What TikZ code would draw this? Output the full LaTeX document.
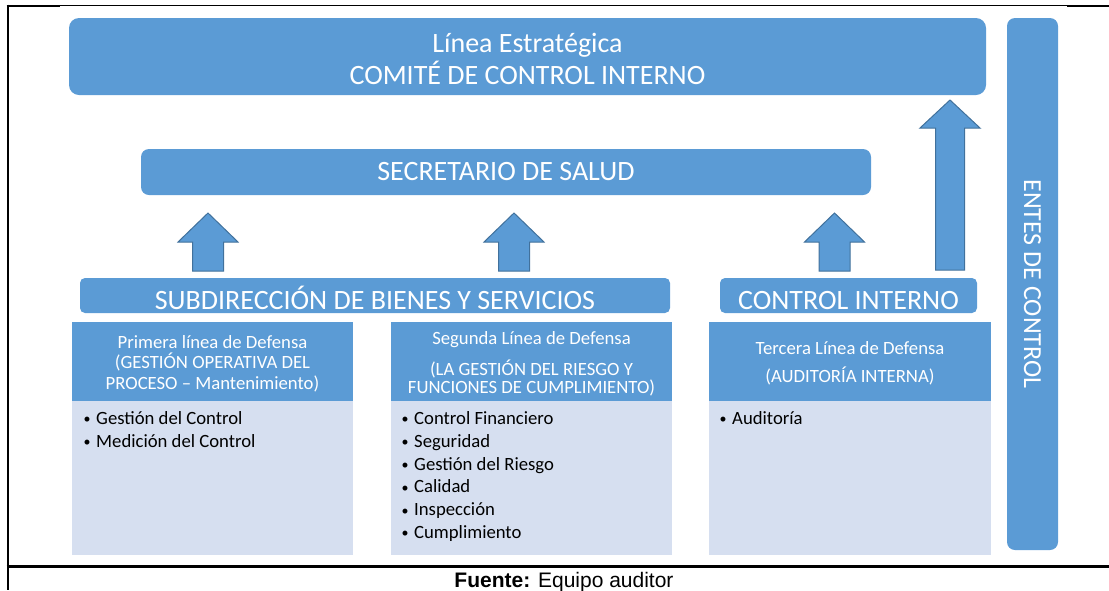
\documentclass[tikz,border=0pt]{standalone}
\usepackage{fontspec}
\setmainfont{Carlito}
\newfontfamily\capfont{Liberation Sans}
\definecolor{mainblue}{HTML}{5B9BD5}
\definecolor{lightblue}{HTML}{D6DFF0}
\definecolor{arrowline}{HTML}{41719C}
\tikzset{
  bluebox/.style={fill=mainblue, draw=none, text=white, inner sep=0pt, align=center},
  bodybox/.style={fill=lightblue, draw=none, inner sep=0pt},
  labeltext/.style={text=white, inner sep=0pt, align=center},
  bigtext/.style={font=\fontsize{28}{34}\selectfont},
  hdrtext/.style={font=\fontsize{18.7}{20.3}\selectfont},
  itemtext/.style={font=\fontsize{18.7}{22.8}\selectfont, anchor=base west, inner sep=0pt, text=black},
  blockarrow/.style={fill=mainblue, draw=arrowline, line width=1pt, line join=miter},
  frameline/.style={draw=black}
}
\newcommand{\bul}{\llap{\raisebox{0.6pt}{\fontsize{14}{14}\selectfont •}\hspace{5.5pt}}}
\begin{document}
\begin{tikzpicture}[x=1pt,y=-1pt]
\useasboundingbox (0,0) rectangle (1109,590);
% frame lines
\draw[frameline, line width=2pt] (6.5,5.5) -- (60,5.5);
\draw[frameline, line width=1.2pt] (60,5.5) -- (1067,5.5);
\draw[frameline, line width=2pt] (1067,6) -- (1109,6);
\draw[frameline, line width=2pt] (7.5,4.5) -- (7.5,590);
\draw[frameline, line width=2.5pt] (6.5,566.5) -- (1109,566.5);

% top boxes
\node[bluebox, rounded corners=10pt, minimum width=917pt, minimum height=77pt] (top) at (527.5,56.5) {};
\node[labeltext, font=\fontsize{28}{32}\selectfont, yshift=-2pt] (topt) at (top) {Línea Estratégica\\COMITÉ DE CONTROL INTERNO};
\node[bluebox, font=\fontsize{26}{30}\selectfont, rounded corners=8pt, rotate=-90, minimum width=532pt, minimum height=51pt] (entes) at (1032.5,284) {ENTES DE CONTROL};
\node[bluebox, bigtext, rounded corners=8pt, minimum width=730pt, minimum height=46pt] (sec) at (506,172) {SECRETARIO DE SALUD};
\node[bluebox, bigtext, text height=28pt, text depth=0pt, rounded corners=5pt, minimum width=590pt, minimum height=35pt] (sub) at (375,295.5) {SUBDIRECCIÓN DE BIENES Y SERVICIOS};
\node[bluebox, bigtext, text height=28pt, text depth=0pt, rounded corners=5pt, minimum width=257pt, minimum height=35pt] (ci) at (848.5,295.5) {CONTROL INTERNO};

% block arrows
\foreach \cx/\tip/\sh/\bot/\hh/\sw in {208/213/242/271/30/15.5, 514/213/242/271/30/15.5, 834.5/213/242/271/30/15.5, 950/100/128/270/30/14.5}{
  \draw[blockarrow] (\cx-\sw,\bot) -- (\cx-\sw,\sh) -- (\cx-\hh,\sh) -- (\cx,\tip) -- (\cx+\hh,\sh) -- (\cx+\sw,\sh) -- (\cx+\sw,\bot) -- cycle;
}

% lower boxes: headers
\node[bluebox, minimum width=281pt, minimum height=79pt] (h1) at (212.5,361.5) {};
\node[bluebox, minimum width=281pt, minimum height=79pt] (h2) at (531.5,361.5) {};
\node[bluebox, minimum width=282pt, minimum height=79pt] (h3) at (850,361.5) {};
\node[labeltext, hdrtext, yshift=-2pt] (h1t) at (h1) {Primera línea de Defensa\\(GESTIÓN OPERATIVA DEL\\PROCESO – Mantenimiento)};
\node[labeltext, font=\fontsize{18.7}{18.5}\selectfont, yshift=-2.5pt] (h2t) at (h2) {Segunda Línea de Defensa\\[10.5pt](LA GESTIÓN DEL RIESGO Y\\FUNCIONES DE CUMPLIMIENTO)};
\node[labeltext, font=\fontsize{18.7}{19.5}\selectfont, yshift=-2pt] (h3t) at (h3) {Tercera Línea de Defensa\\[8.5pt](AUDITORÍA INTERNA)};
% bodies
\node[bodybox, minimum width=281pt, minimum height=154pt, anchor=north] (b1) at (h1.south) {};
\node[bodybox, minimum width=281pt, minimum height=154pt, anchor=north] (b2) at (h2.south) {};
\node[bodybox, minimum width=282pt, minimum height=154pt, anchor=north] (b3) at (h3.south) {};

% items
\foreach \t [count=\i from 0] in {Gestión del Control, Medición del Control}{
  \node[itemtext] (b1i\i) at (96,424.5+22.8*\i) {\bul\t};
}
\foreach \t [count=\i from 0] in {Control Financiero, Seguridad, Gestión del Riesgo, Calidad, Inspección, Cumplimiento}{
  \node[itemtext] (b2i\i) at (414,424.5+22.8*\i) {\bul\t};
}
\node[itemtext] (b3i0) at (732,424.5) {\bul Auditoría};

% caption
\node[anchor=base, inner sep=0pt, font=\capfont\fontsize{21}{24}\selectfont] (cap) at (564,587) {\textbf{Fuente:} Equipo auditor};
\end{tikzpicture}
\end{document}
